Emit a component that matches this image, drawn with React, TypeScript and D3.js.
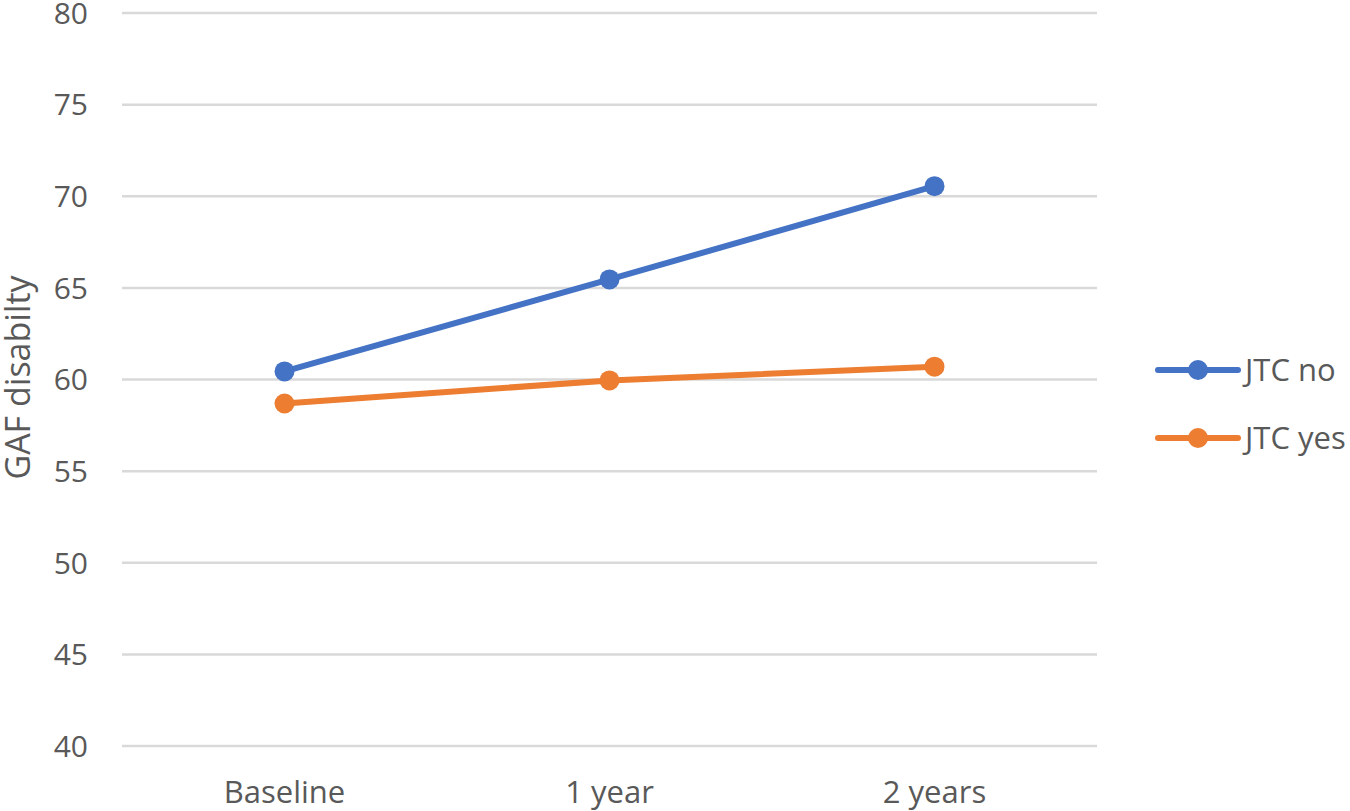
import React, { useEffect, useRef } from "react";
import * as d3 from "d3";

const categories = ["Baseline", "1 year", "2 years"];
const jtcNo = [60.44, 65.46, 70.55];
const jtcYes = [58.69, 59.95, 60.7];
const yTicks = [40, 45, 50, 55, 60, 65, 70, 75, 80];
const seriesNames = ["JTC no", "JTC yes"];
const seriesColors = ["#4472C4", "#ED7D31"];

const App = () => {
  const svgRef = useRef<SVGSVGElement | null>(null);

  useEffect(() => {
    const width = 1350;
    const height = 811;
    const plot = { left: 122, right: 1097, top: 13, bottom: 746 };
    const font = "'Open Sans', 'Liberation Sans', sans-serif";
    const textColor = "#595959";

    const svg = d3.select(svgRef.current);
    svg.selectAll("*").remove();
    svg.attr("width", width).attr("height", height);

    svg.append("rect").attr("width", width).attr("height", height).attr("fill", "#ffffff");

    // scales
    const xScale = d3
      .scaleBand()
      .domain(categories)
      .range([plot.left, plot.right])
      .padding(0);
    const yScale = d3.scaleLinear().domain([40, 80]).range([plot.bottom, plot.top]);
    const xPos = (c: string) => (xScale(c) as number) + xScale.bandwidth() / 2;

    // gridlines
    svg
      .append("g")
      .selectAll("line")
      .data(yTicks)
      .enter()
      .append("line")
      .attr("x1", plot.left)
      .attr("x2", plot.right)
      .attr("y1", (d) => yScale(d))
      .attr("y2", (d) => yScale(d))
      .attr("stroke", "#D9D9D9")
      .attr("stroke-width", 2.5);

    // y tick labels
    svg
      .append("g")
      .selectAll("text")
      .data(yTicks)
      .enter()
      .append("text")
      .attr("x", 88)
      .attr("y", (d) => yScale(d))
      .attr("dy", "0.36em")
      .attr("text-anchor", "end")
      .style("font-family", font)
      .style("font-size", "30px")
      .style("fill", textColor)
      .text((d) => d);

    // x tick labels
    svg
      .append("g")
      .selectAll("text")
      .data(categories)
      .enter()
      .append("text")
      .attr("x", (d) => xPos(d))
      .attr("y", 803)
      .attr("text-anchor", "middle")
      .style("font-family", font)
      .style("font-size", "31px")
      .style("fill", textColor)
      .text((d) => d);

    // y axis label
    svg
      .append("text")
      .attr("transform", `translate(30,${(plot.top + plot.bottom) / 2 - 2}) rotate(-90)`)
      .attr("text-anchor", "middle")
      .style("font-family", font)
      .style("font-size", "34px")
      .style("fill", textColor)
      .text("GAF disabilty");

    // series
    const allSeries = [jtcNo, jtcYes];
    const line = d3
      .line<number>()
      .x((_, i) => xPos(categories[i]))
      .y((d) => yScale(d));

    allSeries.forEach((values, si) => {
      svg
        .append("path")
        .datum(values)
        .attr("d", line)
        .attr("fill", "none")
        .attr("stroke", seriesColors[si])
        .attr("stroke-width", 6)
        .attr("stroke-linecap", "round")
        .attr("stroke-linejoin", "round");

      svg
        .append("g")
        .selectAll("circle")
        .data(values)
        .enter()
        .append("circle")
        .attr("cx", (_, i) => xPos(categories[i]))
        .attr("cy", (d) => yScale(d))
        .attr("r", 10)
        .attr("fill", seriesColors[si]);
    });

    // legend
    const legend = svg.append("g");
    seriesNames.forEach((name, i) => {
      const ly = 370 + i * 68;
      legend
        .append("line")
        .attr("x1", 1158)
        .attr("x2", 1238)
        .attr("y1", ly)
        .attr("y2", ly)
        .attr("stroke", seriesColors[i])
        .attr("stroke-width", 6)
        .attr("stroke-linecap", "round");
      legend
        .append("circle")
        .attr("cx", 1198)
        .attr("cy", ly)
        .attr("r", 10)
        .attr("fill", seriesColors[i]);
      legend
        .append("text")
        .attr("x", 1245)
        .attr("y", ly)
        .attr("dy", "0.36em")
        .style("font-family", font)
        .style("font-size", "31px")
        .style("fill", textColor)
        .text(name);
    });
  }, []);

  return (
    <div style={{ position: "absolute", left: 0, top: 0 }}>
      <svg ref={svgRef}></svg>
    </div>
  );
};

export default App;
